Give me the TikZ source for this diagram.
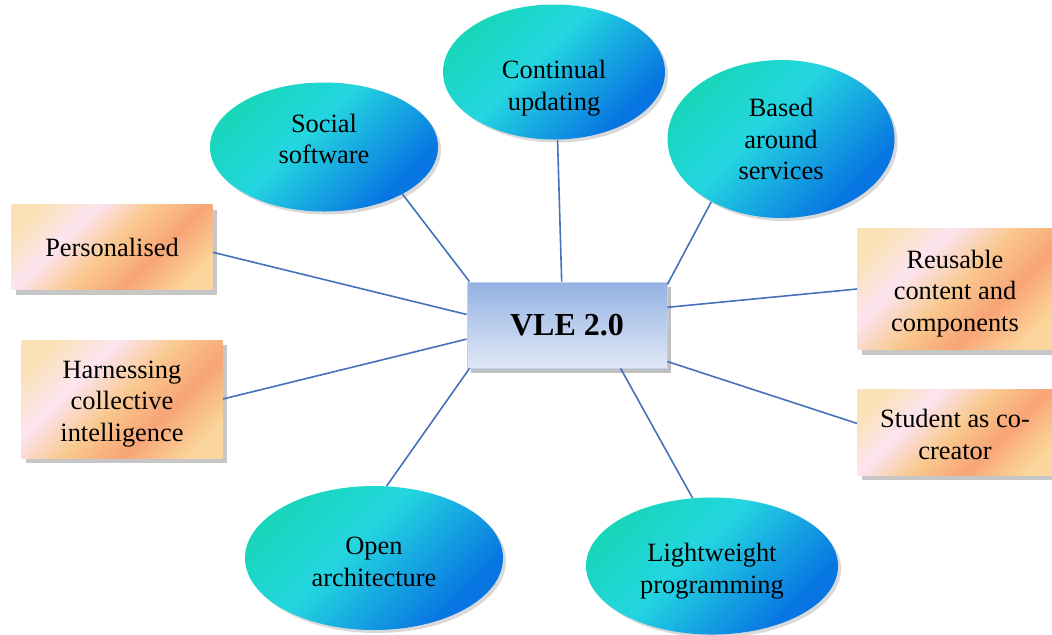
\documentclass[tikz,border=0pt]{standalone}
\usepackage{fontspec}
\setmainfont{Liberation Serif}
\usetikzlibrary{shapes.geometric,shadows}

\definecolor{lineblue}{RGB}{68,114,186}
\definecolor{ovalgreen}{RGB}{22,214,180}
\definecolor{ovalcyan}{RGB}{36,214,224}
\definecolor{ovalblue}{RGB}{8,118,226}
\definecolor{hubtop}{RGB}{148,178,226}
\definecolor{hubbottom}{RGB}{224,232,247}
\definecolor{boxcream}{RGB}{250,226,182}
\definecolor{boxpink}{RGB}{252,228,240}
\definecolor{boxgold}{RGB}{249,200,142}
\definecolor{boxorange}{RGB}{248,164,118}
\definecolor{boxlight}{RGB}{251,214,156}
\pgfdeclarehorizontalshading{peach}{100bp}{color(0bp)=(boxcream); color(22bp)=(boxcream); color(36bp)=(boxpink); color(50bp)=(boxgold); color(63bp)=(boxorange); color(78bp)=(boxlight); color(100bp)=(boxlight)}
\pgfdeclarehorizontalshading{lagoon}{100bp}{color(0bp)=(ovalgreen); color(22bp)=(ovalgreen); color(44bp)=(ovalcyan); color(72bp)=(ovalblue); color(100bp)=(ovalblue)}

% nudge the text of a node down (first line) or up (last line)
\newcommand\dropby[1]{\rule{0pt}{\dimexpr 9.5pt+2\dimexpr#1\relax\relax}}
\newcommand\liftby[1]{\rule[-2\dimexpr#1\relax]{0pt}{2\dimexpr#1\relax}}

\begin{document}
\begin{tikzpicture}[x=0.5pt, y=-0.5pt,
    every node/.style={font=\fontsize{13.2}{15.8}\selectfont, align=center},
    idea/.style={ellipse, inner sep=0pt, shading=lagoon, shading angle=-45,
        drop shadow={shadow xshift=1.5pt, shadow yshift=-1.5pt, opacity=0.3}},
    trait/.style={rectangle, inner sep=0pt, shading=peach, shading angle=-45,
        drop shadow={shadow xshift=2pt, shadow yshift=-2.5pt, opacity=0.45}},
    hub/.style={rectangle, top color=hubtop, bottom color=hubbottom, draw=hubtop!60, thin,
        drop shadow={shadow xshift=2pt, shadow yshift=-2.5pt, opacity=0.5}},
    spoke/.style={draw=lineblue, line width=0.8pt}]
    \useasboundingbox (0,0) rectangle (1052,634);

    \node (hub) [hub, minimum width=100pt, minimum height=43pt] at (567,325) {\fontsize{16}{19}\selectfont\bfseries VLE 2.0};

    \node (social) [idea, minimum width=114pt, minimum height=64.5pt] at (324,147) {Social\\software\liftby{4pt}};
    \node (update) [idea, minimum width=111pt, minimum height=67.5pt] at (554,72) {\dropby{8pt}Continual\\updating};
    \node (services) [idea, minimum width=113.5pt, minimum height=79pt] at (781,139) {Based\\around\\services};
    \node (openarch) [idea, minimum width=129pt, minimum height=72pt] at (374,558) {\dropby{1.5pt}Open\\architecture};
    \node (light) [idea, minimum width=126pt, minimum height=68.5pt] at (712,566) {\dropby{2.5pt}Lightweight\\programming};

    \node (personal) [trait, minimum width=100.5pt, minimum height=42.5pt] at (112,247) {Personalised};
    \node (collective) [trait, minimum width=100.5pt, minimum height=59pt] at (122,399) {\dropby{2pt}Harnessing\\collective\\intelligence};
    \node (reuse) [trait, minimum width=97.5pt, minimum height=60.5pt] at (955,289) {\dropby{2pt}Reusable\\content and\\components};
    \node (cocreator) [trait, minimum width=97.5pt, minimum height=43pt] at (955,432) {\dropby{1pt}Student as co-\\creator};

    \draw [spoke] (personal.-3) -- (hub.174);
    \draw [spoke] (collective.east) -- (hub.188);
    \draw [spoke] (social.-31) -- (hub.156);
    \draw [spoke] (update.-87) -- (hub.97);
    \draw [spoke] (services.222) -- (hub.22);
    \draw [spoke] (reuse.west) -- (hub.10);
    \draw [spoke] (cocreator.175) -- (hub.-20);
    \draw [spoke] (openarch.80) -- (hub.204);
    \draw [spoke] (light.106) -- (hub.-39);
\end{tikzpicture}
\end{document}
